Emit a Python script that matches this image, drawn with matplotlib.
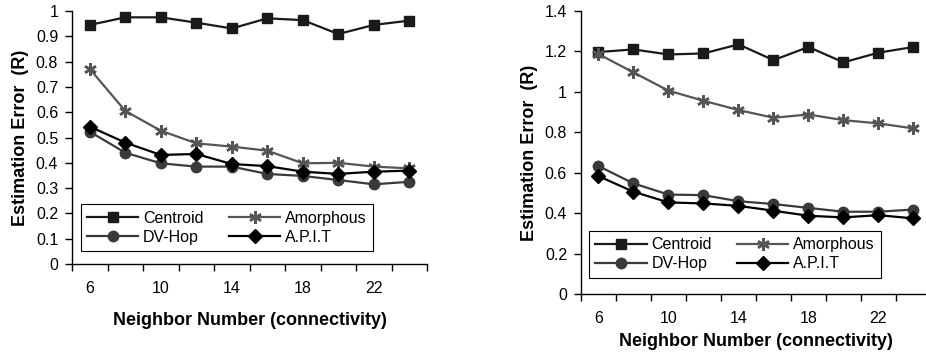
import numpy as np
import matplotlib
matplotlib.use('Agg')
import matplotlib.pyplot as plt
from matplotlib.ticker import FuncFormatter, FixedLocator

plt.rcParams['font.family'] = ['Liberation Sans', 'DejaVu Sans']

# neighbour counts (category axis)
neighbors = [6, 8, 10, 12, 14, 16, 18, 20, 22, 24]
tick_labels = ['6', '10', '14', '18', '22']

# left panel
left_centroid = [0.945, 0.975, 0.975, 0.954, 0.931, 0.971, 0.964, 0.909, 0.945, 0.962]
left_amorphous = [0.771, 0.605, 0.527, 0.477, 0.464, 0.448, 0.398, 0.400, 0.385, 0.378]
left_dvhop = [0.523, 0.440, 0.398, 0.385, 0.385, 0.356, 0.348, 0.332, 0.315, 0.325]
left_apit = [0.543, 0.480, 0.431, 0.435, 0.395, 0.387, 0.365, 0.356, 0.365, 0.369]

# right panel
right_centroid = [1.197, 1.210, 1.185, 1.190, 1.235, 1.157, 1.222, 1.146, 1.194, 1.222]
right_amorphous = [1.187, 1.096, 1.006, 0.956, 0.910, 0.872, 0.888, 0.860, 0.844, 0.819]
right_dvhop = [0.633, 0.547, 0.492, 0.489, 0.459, 0.445, 0.426, 0.407, 0.407, 0.418]
right_apit = [0.583, 0.506, 0.453, 0.448, 0.436, 0.412, 0.387, 0.379, 0.390, 0.374]

series_names = ['Centroid', 'Amorphous', 'DV-Hop', 'A.P.I.T']
styles = [
    dict(color='#1a1a1a', marker='s', markersize=7),
    dict(color='#555555', marker=(6, 2, 0), markersize=9, markeredgewidth=1.8),
    dict(color='#3a3a3a', marker='o', markersize=7.5),
    dict(color='#000000', marker='D', markersize=7.5),
]


def draw_panel(ax, data, ymax, ystep, legend_xy, xlabelpad):
    x = np.arange(len(neighbors))
    lines = []
    for vals, name, st in zip(data, series_names, styles):
        ln, = ax.plot(x, vals, linewidth=1.6, label=name, **st)
        lines.append(ln)
    ax.set_xlim(-0.5, len(neighbors) - 0.5)
    ax.set_ylim(0, ymax)
    ax.set_yticks(np.arange(0, ymax + 1e-9, ystep))
    ax.yaxis.set_major_formatter(FuncFormatter(lambda v, p: '%g' % round(v, 2)))
    ax.xaxis.set_major_locator(FixedLocator(x[::2]))
    ax.set_xticklabels(tick_labels)
    ax.xaxis.set_minor_locator(FixedLocator(np.arange(len(neighbors) + 1) - 0.5))
    ax.tick_params(axis='x', which='major', length=0, pad=12, labelsize=11.5)
    ax.tick_params(axis='x', which='minor', length=5, width=1, direction='out')
    ax.tick_params(axis='y', length=5, width=1, direction='out', labelsize=11.5, pad=5)
    for s in ['top', 'right']:
        ax.spines[s].set_visible(False)
    for s in ['left', 'bottom']:
        ax.spines[s].set_linewidth(1)
    ax.set_xlabel('Neighbor Number (connectivity)', fontsize=13, fontweight='bold', labelpad=xlabelpad)
    ax.set_ylabel('Estimation Error  (R)', fontsize=13, fontweight='bold', labelpad=5)
    # legend filled row by row, as in the original
    order = [0, 2, 1, 3]
    leg = ax.legend([lines[i] for i in order], [series_names[i] for i in order],
                    ncol=2, loc='lower left', bbox_to_anchor=legend_xy, fontsize=11.5,
                    numpoints=1, handlelength=3.2, handletextpad=0.3, columnspacing=1.6,
                    labelspacing=0.25, borderpad=0.4, borderaxespad=0, fancybox=False,
                    framealpha=1, edgecolor='black')
    leg.get_frame().set_linewidth(0.8)


fig = plt.figure(figsize=(9.26, 3.54), dpi=100)
ax1 = fig.add_axes([0.0778, 0.2542, 0.3834, 0.7147])
ax2 = fig.add_axes([0.6274, 0.1695, 0.378, 0.7994])

draw_panel(ax1, [left_centroid, left_amorphous, left_dvhop, left_apit], 1.0, 0.1, (0.025, 0.051), 12)
draw_panel(ax2, [right_centroid, right_amorphous, right_dvhop, right_apit], 1.4, 0.2, (0.023, 0.057), 5)

fig.savefig('out.png', dpi=100)
